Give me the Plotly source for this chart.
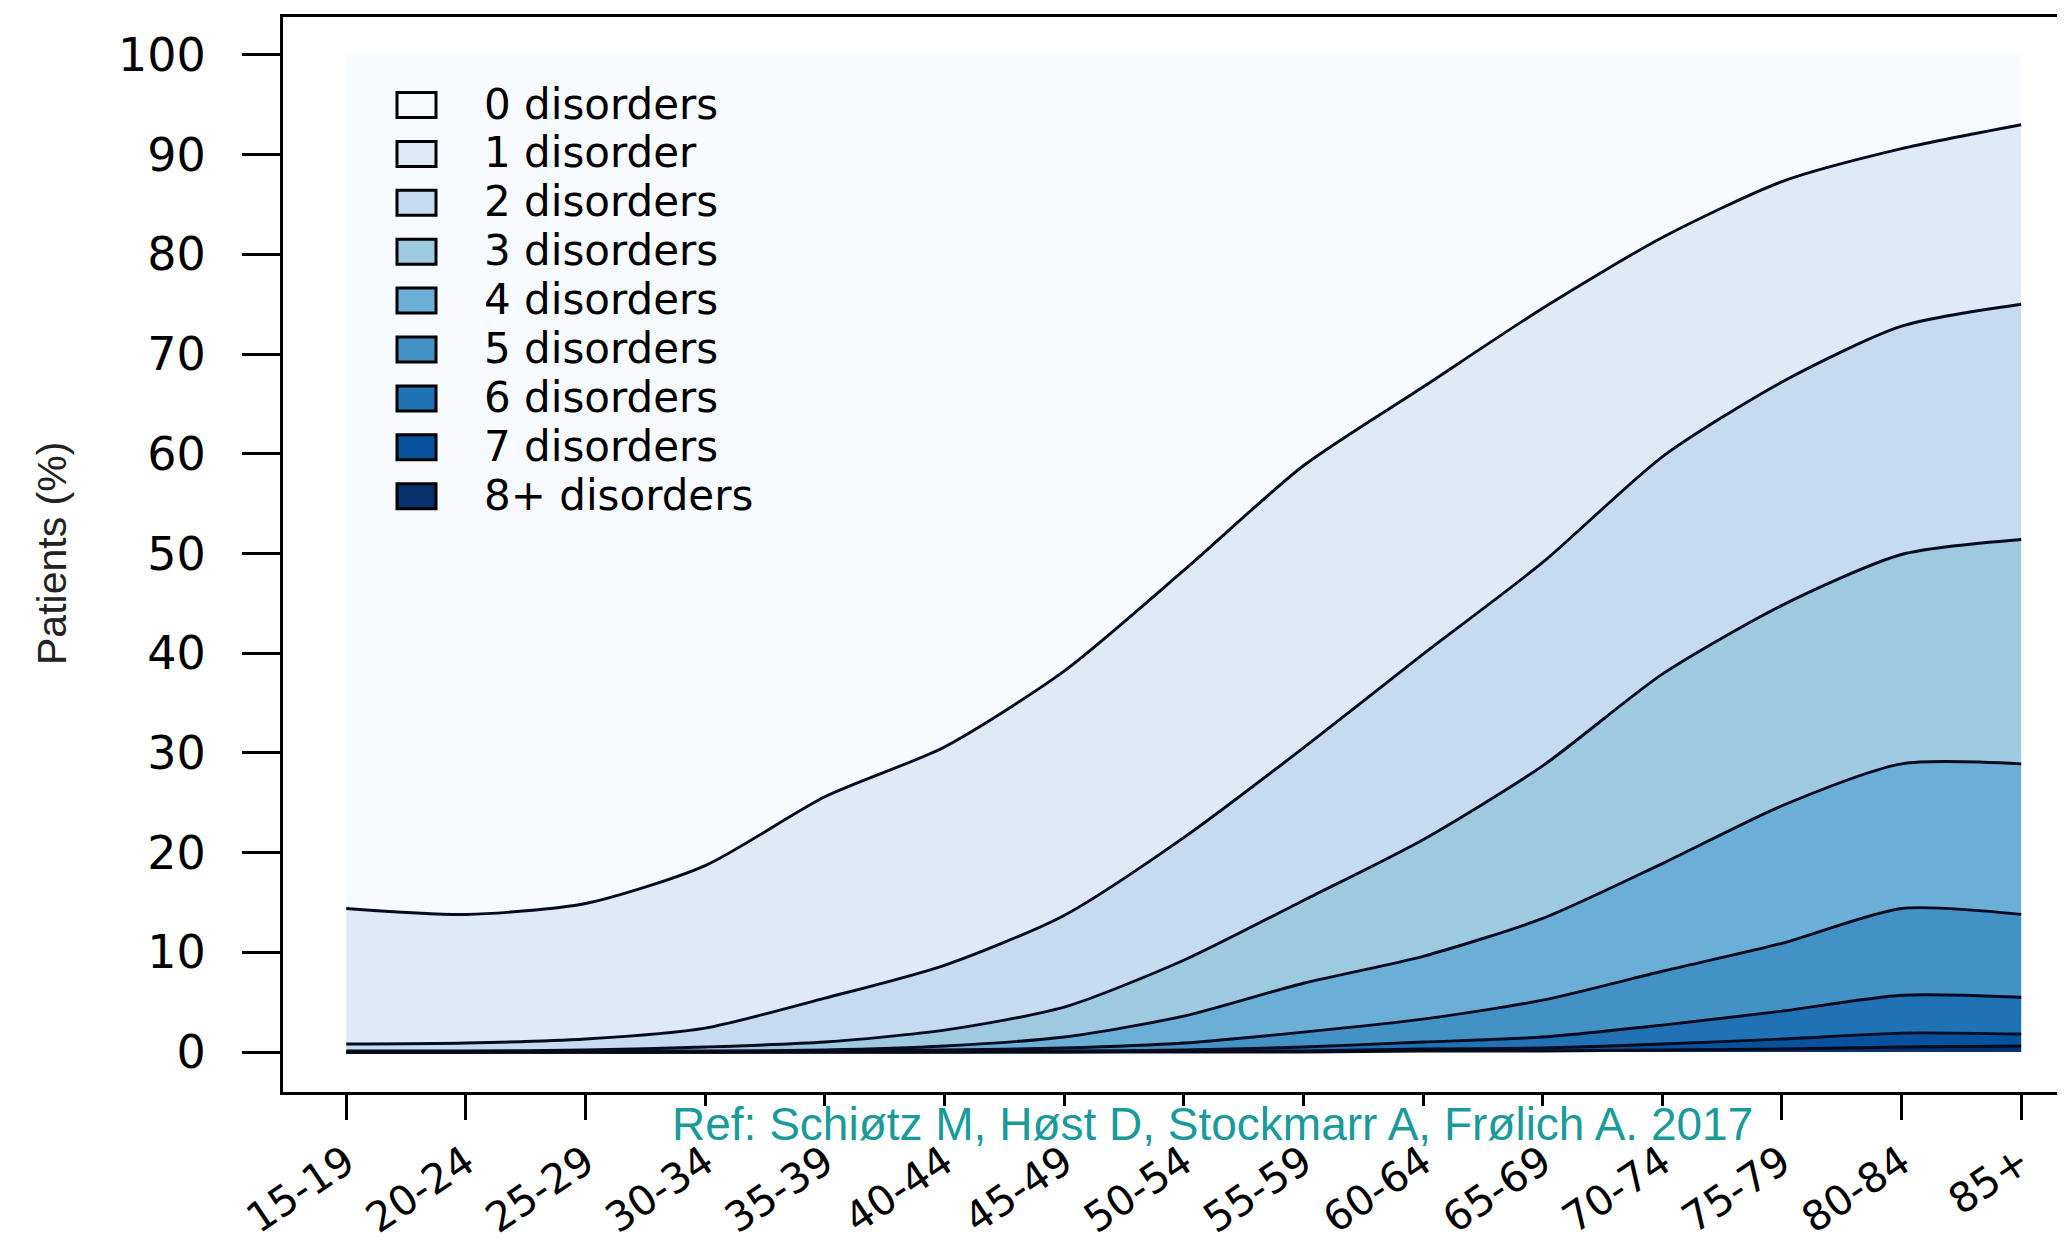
import plotly.graph_objects as go

# ---------------- data ----------------
age_groups = ["15-19", "20-24", "25-29", "30-34", "35-39", "40-44", "45-49",
              "50-54", "55-59", "60-64", "65-69", "70-74", "75-79", "80-84", "85+"]

# share of patients (%) in each age group by number of disorders
d0 = [85.6, 86.2, 85.1, 81.3, 74.4, 69.4, 61.8, 51.7, 41.2, 33.3, 25.4, 18.3, 12.7, 9.4, 7.0]
d1 = [13.6, 12.9, 13.6, 16.3, 20.2, 21.9, 24.5, 26.8, 28.3, 26.8, 25.5, 22.0, 20.1, 17.8, 18.0]
d2 = [0.7, 0.8, 1.1, 1.9, 4.4, 6.5, 9.2, 12.3, 15.3, 18.6, 20.4, 21.8, 22.4, 22.9, 23.6]
d3 = [0.1, 0.1, 0.1, 0.4, 0.8, 1.6, 3.0, 5.6, 8.3, 11.7, 15.3, 19.0, 20.1, 21.0, 22.5]
d4 = [0.0, 0.0, 0.1, 0.1, 0.1, 0.4, 1.1, 2.7, 4.9, 6.3, 8.2, 10.8, 13.8, 14.5, 15.1]
d5 = [0.0, 0.0, 0.0, 0.0, 0.1, 0.2, 0.3, 0.7, 1.5, 2.3, 3.7, 5.4, 6.8, 8.7, 8.3]
d6 = [0.0, 0.0, 0.0, 0.0, 0.0, 0.0, 0.1, 0.1, 0.4, 0.7, 1.1, 1.9, 2.8, 3.8, 3.7]
d7 = [0.0, 0.0, 0.0, 0.0, 0.0, 0.0, 0.0, 0.1, 0.1, 0.2, 0.3, 0.6, 1.0, 1.4, 1.2]
d8 = [0.0, 0.0, 0.0, 0.0, 0.0, 0.0, 0.0, 0.0, 0.0, 0.1, 0.1, 0.2, 0.3, 0.5, 0.6]

series_names = ["0 disorders", "1 disorder", "2 disorders", "3 disorders", "4 disorders",
                "5 disorders", "6 disorders", "7 disorders", "8+ disorders"]
series_values = [d0, d1, d2, d3, d4, d5, d6, d7, d8]
series_colors = ["#F7FBFF", "#DEEBF7", "#C6DBEF", "#9ECAE1", "#6BAED6",
                 "#4292C6", "#2171B5", "#08519C", "#08306B"]

y_tick_values = [0, 10, 20, 30, 40, 50, 60, 70, 80, 90, 100]

y_title = "Patients (%)"
ref_text = "Ref: Schiøtz M, Høst D, Stockmarr A, Frølich A. 2017"

# ---------------- figure ----------------
W, H = 2065, 1253
OFF = 8                      # page body margin
# plot frame in page pixels: left 283, top 17, bottom 1092, right beyond the window
ML, MT, MR = 283 - OFF, 17 - OFF, 0
MB = H - (1092 - OFF)
PW, PH = W - ML - MR, H - MT - MB

def px(x):                   # page x -> paper
    return (x - OFF - ML) / PW

def py(y):                   # page y -> paper
    return (H - MB - (y - OFF)) / PH

LINE = "#050a1e"
fig = go.Figure()

# stack from the bottom (8+) to the top (0)
for name, vals, col in reversed(list(zip(series_names, series_values, series_colors))):
    is_top = name == series_names[0]
    fig.add_trace(go.Scatter(
        x=age_groups, y=vals, name=name, mode="lines",
        stackgroup="one", fillcolor=col,
        line=dict(color=col if is_top else LINE, width=0 if is_top else 2.9,
                  shape="spline", smoothing=0.7),
        showlegend=False, hoverinfo="skip",
    ))

# legend drawn as swatches + labels
shapes = []
annotations = []
row0, row_step = 105, 48.9
for i, (name, col) in enumerate(zip(series_names, series_colors)):
    yc = row0 + i * row_step
    shapes.append(dict(type="rect", xref="paper", yref="paper",
                       x0=px(397), x1=px(436), y0=py(yc - 12.5), y1=py(yc + 12.5),
                       fillcolor=col, line=dict(color="black", width=3), layer="above"))
    annotations.append(dict(text=name, xref="paper", yref="paper", x=px(483), y=py(yc - 1),
                            xanchor="left", yanchor="middle", showarrow=False, borderpad=0,
                            font=dict(family="DejaVu Sans", size=42, color="black")))

# y-axis title
annotations.append(dict(text=y_title, xref="paper", yref="paper", x=px(52), y=py(554),
                        xanchor="center", yanchor="middle", textangle=-90, showarrow=False,
                        font=dict(family="Liberation Sans, Arial", size=41, color="#222222")))

# white strip under the reference text (covers lower part of x ticks)
shapes.append(dict(type="rect", xref="paper", yref="paper",
                   x0=px(668), x1=px(1758), y0=py(1106), y1=py(1142),
                   fillcolor="white", line=dict(width=0), layer="above"))
annotations.append(dict(text=ref_text, xref="paper", yref="paper", x=px(1212), y=py(1124),
                        xanchor="center", yanchor="middle", showarrow=False,
                        font=dict(family="Liberation Sans Narrow, Arial Narrow, Liberation Sans",
                                  size=46, color="#1a9a9a")))

fig.update_layout(
    width=W, height=H,
    margin=dict(l=ML, r=MR, t=MT, b=MB, pad=0),
    paper_bgcolor="white", plot_bgcolor="white",
    showlegend=False,
    shapes=shapes, annotations=annotations,
    font=dict(family="DejaVu Sans", color="black"),
)

fig.update_xaxes(
    type="category", range=[-0.529, 14.433],
    showgrid=False, zeroline=False,
    showline=True, linecolor="black", linewidth=3, mirror=True,
    ticks="outside", ticklen=25, tickwidth=3, tickcolor="black",
    tickangle=-34, tickfont=dict(family="DejaVu Sans", size=41, color="black"),
    ticklabelstandoff=2,
)
fig.update_yaxes(
    range=[-4.01, 103.81], tickvals=y_tick_values,
    showgrid=False, zeroline=False,
    showline=True, linecolor="black", linewidth=3,
    ticks="outside", ticklen=38, tickwidth=3, tickcolor="black",
    tickfont=dict(family="DejaVu Sans", size=46, color="black"),
    ticklabelstandoff=27,
)

fig.write_html("out.html")
